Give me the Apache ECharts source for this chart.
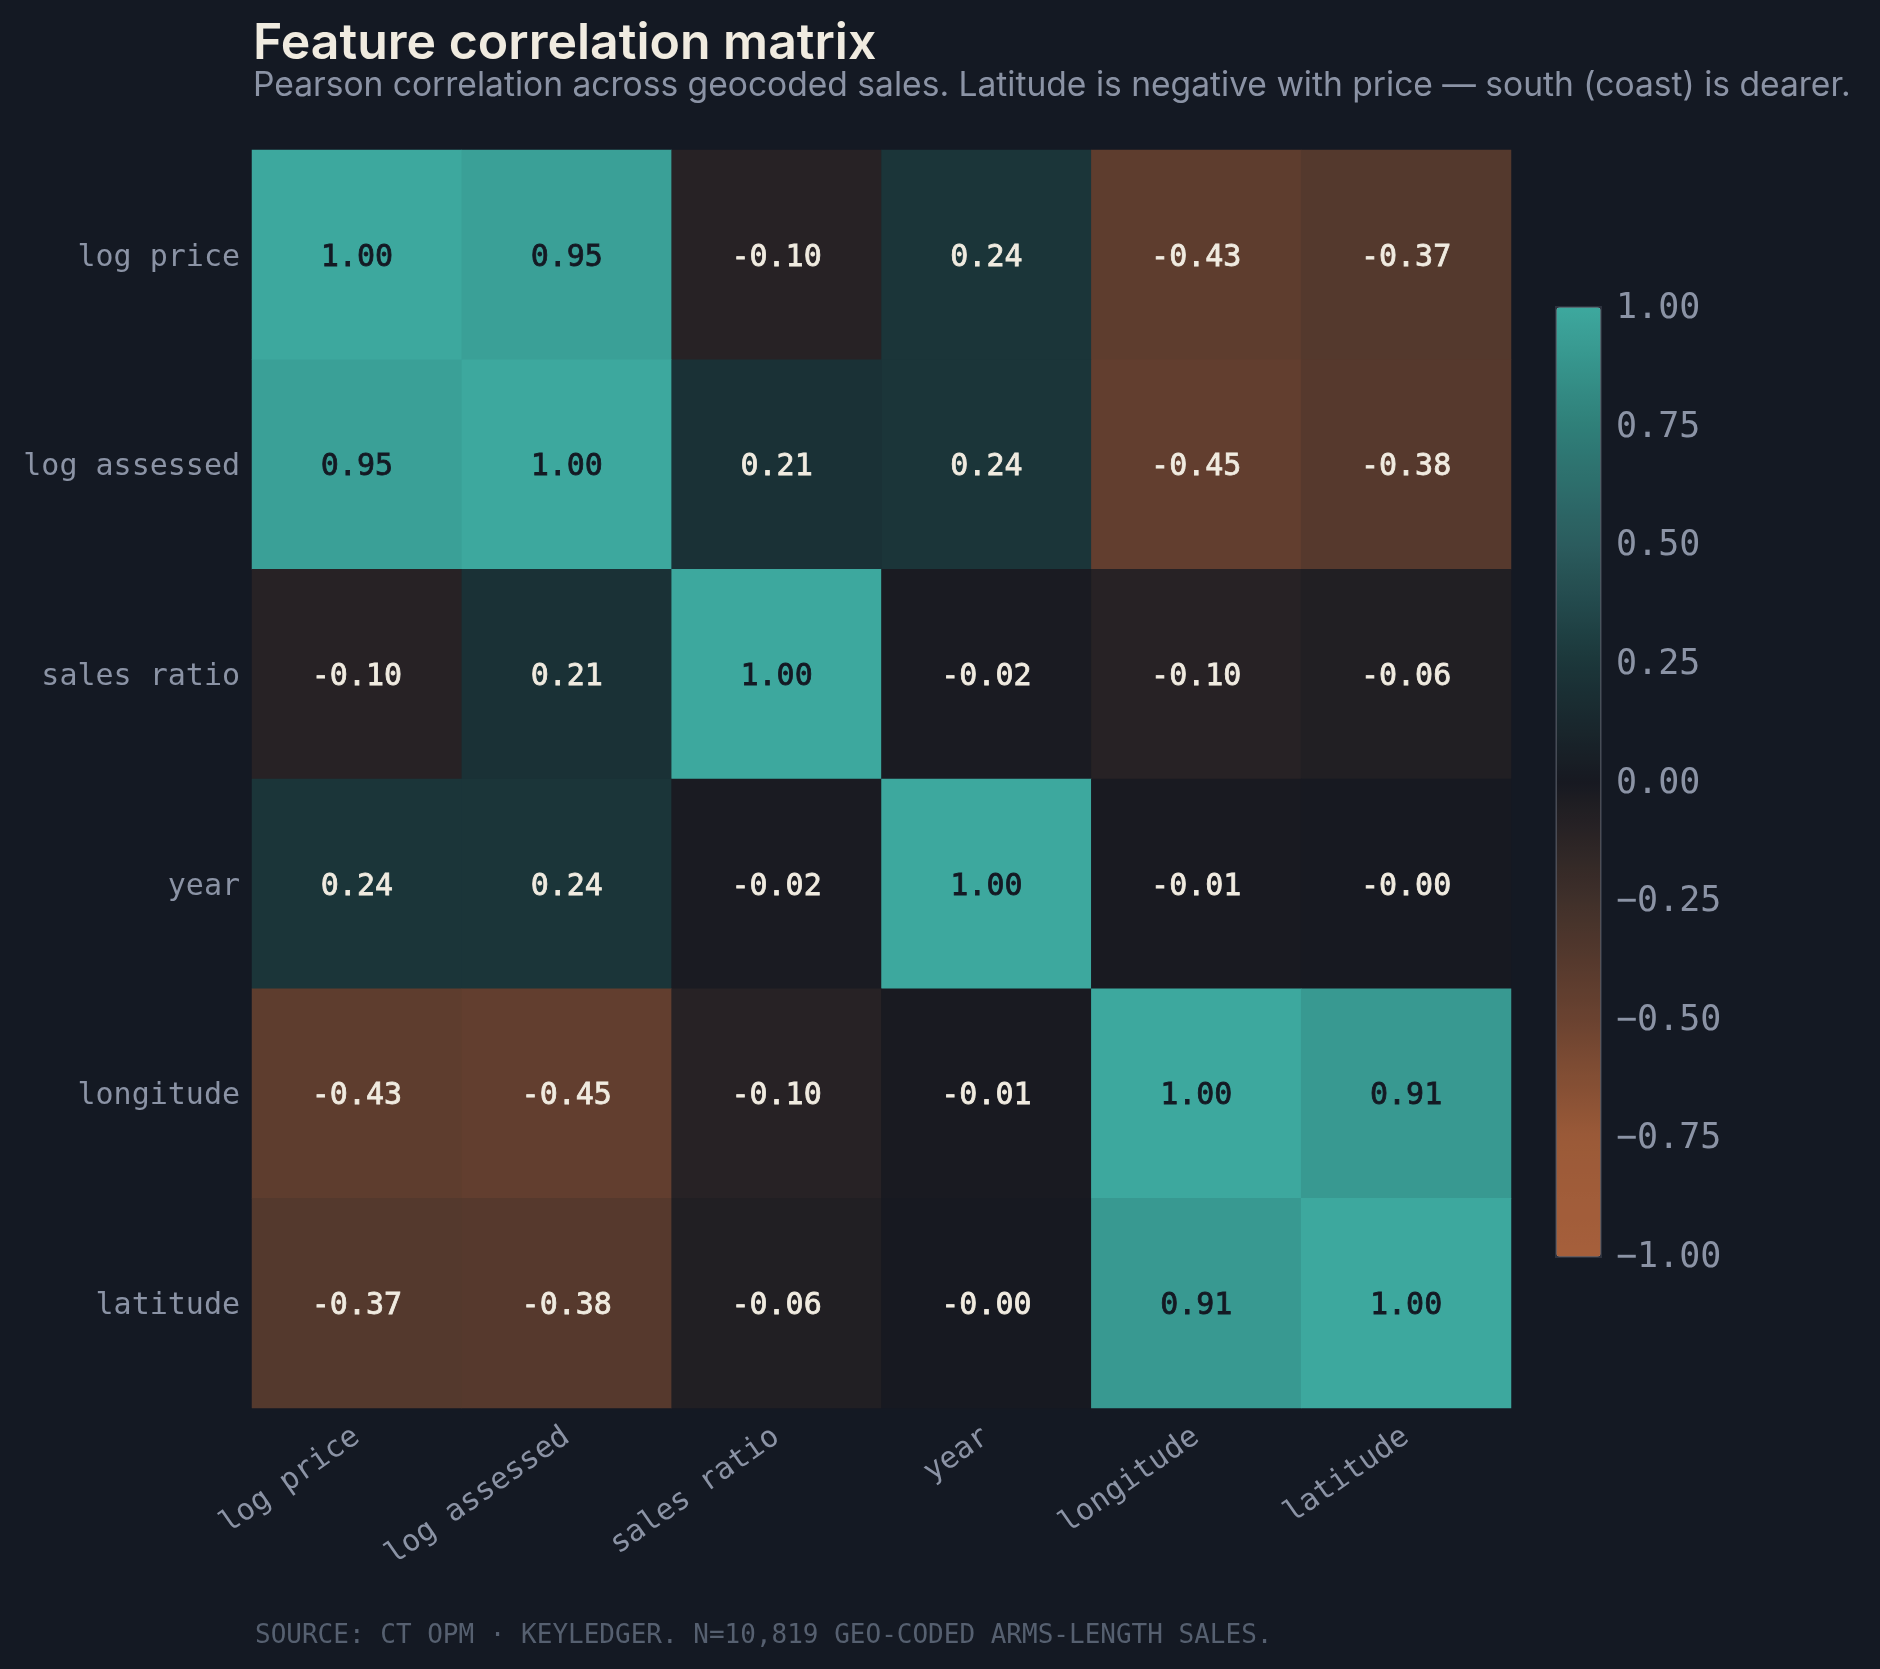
<!DOCTYPE html>
<html>
<head>
<meta charset="utf-8">
<title>Feature correlation matrix</title>
<script src="https://cdn.jsdelivr.net/npm/echarts@6/dist/echarts.min.js"></script>
<style>
  html, body { margin: 0; padding: 0; background: #141923; }
  #main { width: 1880px; height: 1669px; }
</style>
</head>
<body>
<div id="main"></div>
<script>
// features (rows top->bottom, cols left->right)
var features = ['log price', 'log assessed', 'sales ratio', 'year', 'longitude', 'latitude'];

// pearson r, one row per feature
var rowLogPrice    = [1.00, 0.95, -0.10, 0.24, -0.43, -0.37];
var rowLogAssessed = [0.95, 1.00, 0.21, 0.24, -0.45, -0.38];
var rowSalesRatio  = [-0.10, 0.21, 1.00, -0.02, -0.10, -0.06];
var rowYear        = [0.24, 0.24, -0.02, 1.00, -0.01, -0.003];
var rowLongitude   = [-0.43, -0.45, -0.10, -0.01, 1.00, 0.91];
var rowLatitude    = [-0.37, -0.38, -0.06, -0.003, 0.91, 1.00];
var corr = [rowLogPrice, rowLogAssessed, rowSalesRatio, rowYear, rowLongitude, rowLatitude];

// colorbar tick labels
var cbarTicks = [1.00, 0.75, 0.50, 0.25, 0.00, -0.25, -0.50, -0.75, -1.00];

var BG = '#141923',
	INK = '#f0ebe0',
	MUTED = '#8b93a5',
	MONO = '"DejaVu Sans Mono", "Liberation Mono", monospace',
	SANS = 'Inter, "Noto Sans", sans-serif';

// build heatmap cells [x, y, value]
var cells = [];
for (var r = 0; r < corr.length; r++) {
	for (var c = 0; c < corr[r].length; c++) {
		var v = corr[r][c];
		var txt = Math.abs(v) > 0.6 ? BG : INK;
		cells.push({
			value: [c, r, v],
			label: { color: txt, textBorderColor: txt }
		});
	}
}

var myChart = echarts.init(document.getElementById('main'));

var option = {
	backgroundColor: BG,
	animation: false,
	title: [{
		text: 'Feature correlation matrix',
		subtext: 'Pearson correlation across geocoded sales. Latitude is negative with price \u2014 south (coast) is dearer.',
		left: 248,
		top: 14,
		itemGap: 0,
		textStyle: { color: INK, fontFamily: SANS, fontSize: 50, fontWeight: 600 },
		subtextStyle: { color: MUTED, fontFamily: SANS, fontSize: 33.6 }
	}, {
		text: 'SOURCE: CT OPM \u00b7 KEYLEDGER. N=10,819 GEO-CODED ARMS-LENGTH SALES.',
		left: 250,
		top: 1618,
		textStyle: { color: '#566070', fontFamily: MONO, fontSize: 26, fontWeight: 'normal' }
	}],
	grid: [
		{ left: 252, top: 150, width: 1259, height: 1258 },
		{ left: 1558, top: 309, width: 44, height: 949 }
	],
	xAxis: [{
		type: 'category',
		gridIndex: 0,
		data: features,
		axisLine: { show: false },
		axisTick: { show: false },
		splitArea: { show: false },
		axisLabel: {
			rotate: 35,
			margin: 26,
			color: MUTED,
			fontFamily: MONO,
			fontSize: 30
		}
	}, {
		type: 'value',
		gridIndex: 1,
		show: false
	}],
	yAxis: [{
		type: 'category',
		gridIndex: 0,
		data: features,
		inverse: true,
		axisLine: { show: false },
		axisTick: { show: false },
		axisLabel: {
			margin: 12,
			color: MUTED,
			fontFamily: MONO,
			fontSize: 30,
			formatter: '{a|{value}}',
			rich: { a: { padding: [6, 0, 0, 0], fontFamily: MONO, fontSize: 30, color: MUTED } }
		}
	}, {
		type: 'value',
		gridIndex: 1,
		position: 'right',
		min: -1,
		max: 1,
		interval: 0.25,
		axisLine: { show: false },
		axisTick: { show: false },
		splitLine: { show: false },
		axisLabel: {
			margin: 14,
			color: MUTED,
			fontFamily: MONO,
			fontSize: 35,
			formatter: function(v) {
				return v.toFixed(2).replace('-', '\u2212');
			},
			customValues: cbarTicks
		}
	}],
	visualMap: {
		type: 'continuous',
		min: -1,
		max: 1,
		seriesIndex: 0,
		calculable: false,
		realtime: false,
		left: 1555,
		top: 306,
		padding: 0,
		itemWidth: 44,
		itemHeight: 949,
		borderWidth: 3,
		borderColor: '#2d323e',
		text: null,
		showLabel: false,
		inRange: {
			color: ['#a65f3b', '#9b5a38', '#6a4230', '#40302a', '#171921',
				'#1b363a', '#2b5c5e', '#2f7f79', '#3da89e']
		}
	},
	series: [{
		type: 'heatmap',
		xAxisIndex: 0,
		yAxisIndex: 0,
		data: cells,
		itemStyle: { borderWidth: 0 },
		emphasis: { disabled: true },
		label: {
			show: true,
			fontFamily: MONO,
			fontSize: 30,
			fontWeight: 'normal',
			textBorderWidth: 0.8,
			offset: [0, 3],
			formatter: function(p) {
				return p.value[2].toFixed(2);
			}
		}
	}]
};

myChart.setOption(option);
</script>
</body>
</html>
